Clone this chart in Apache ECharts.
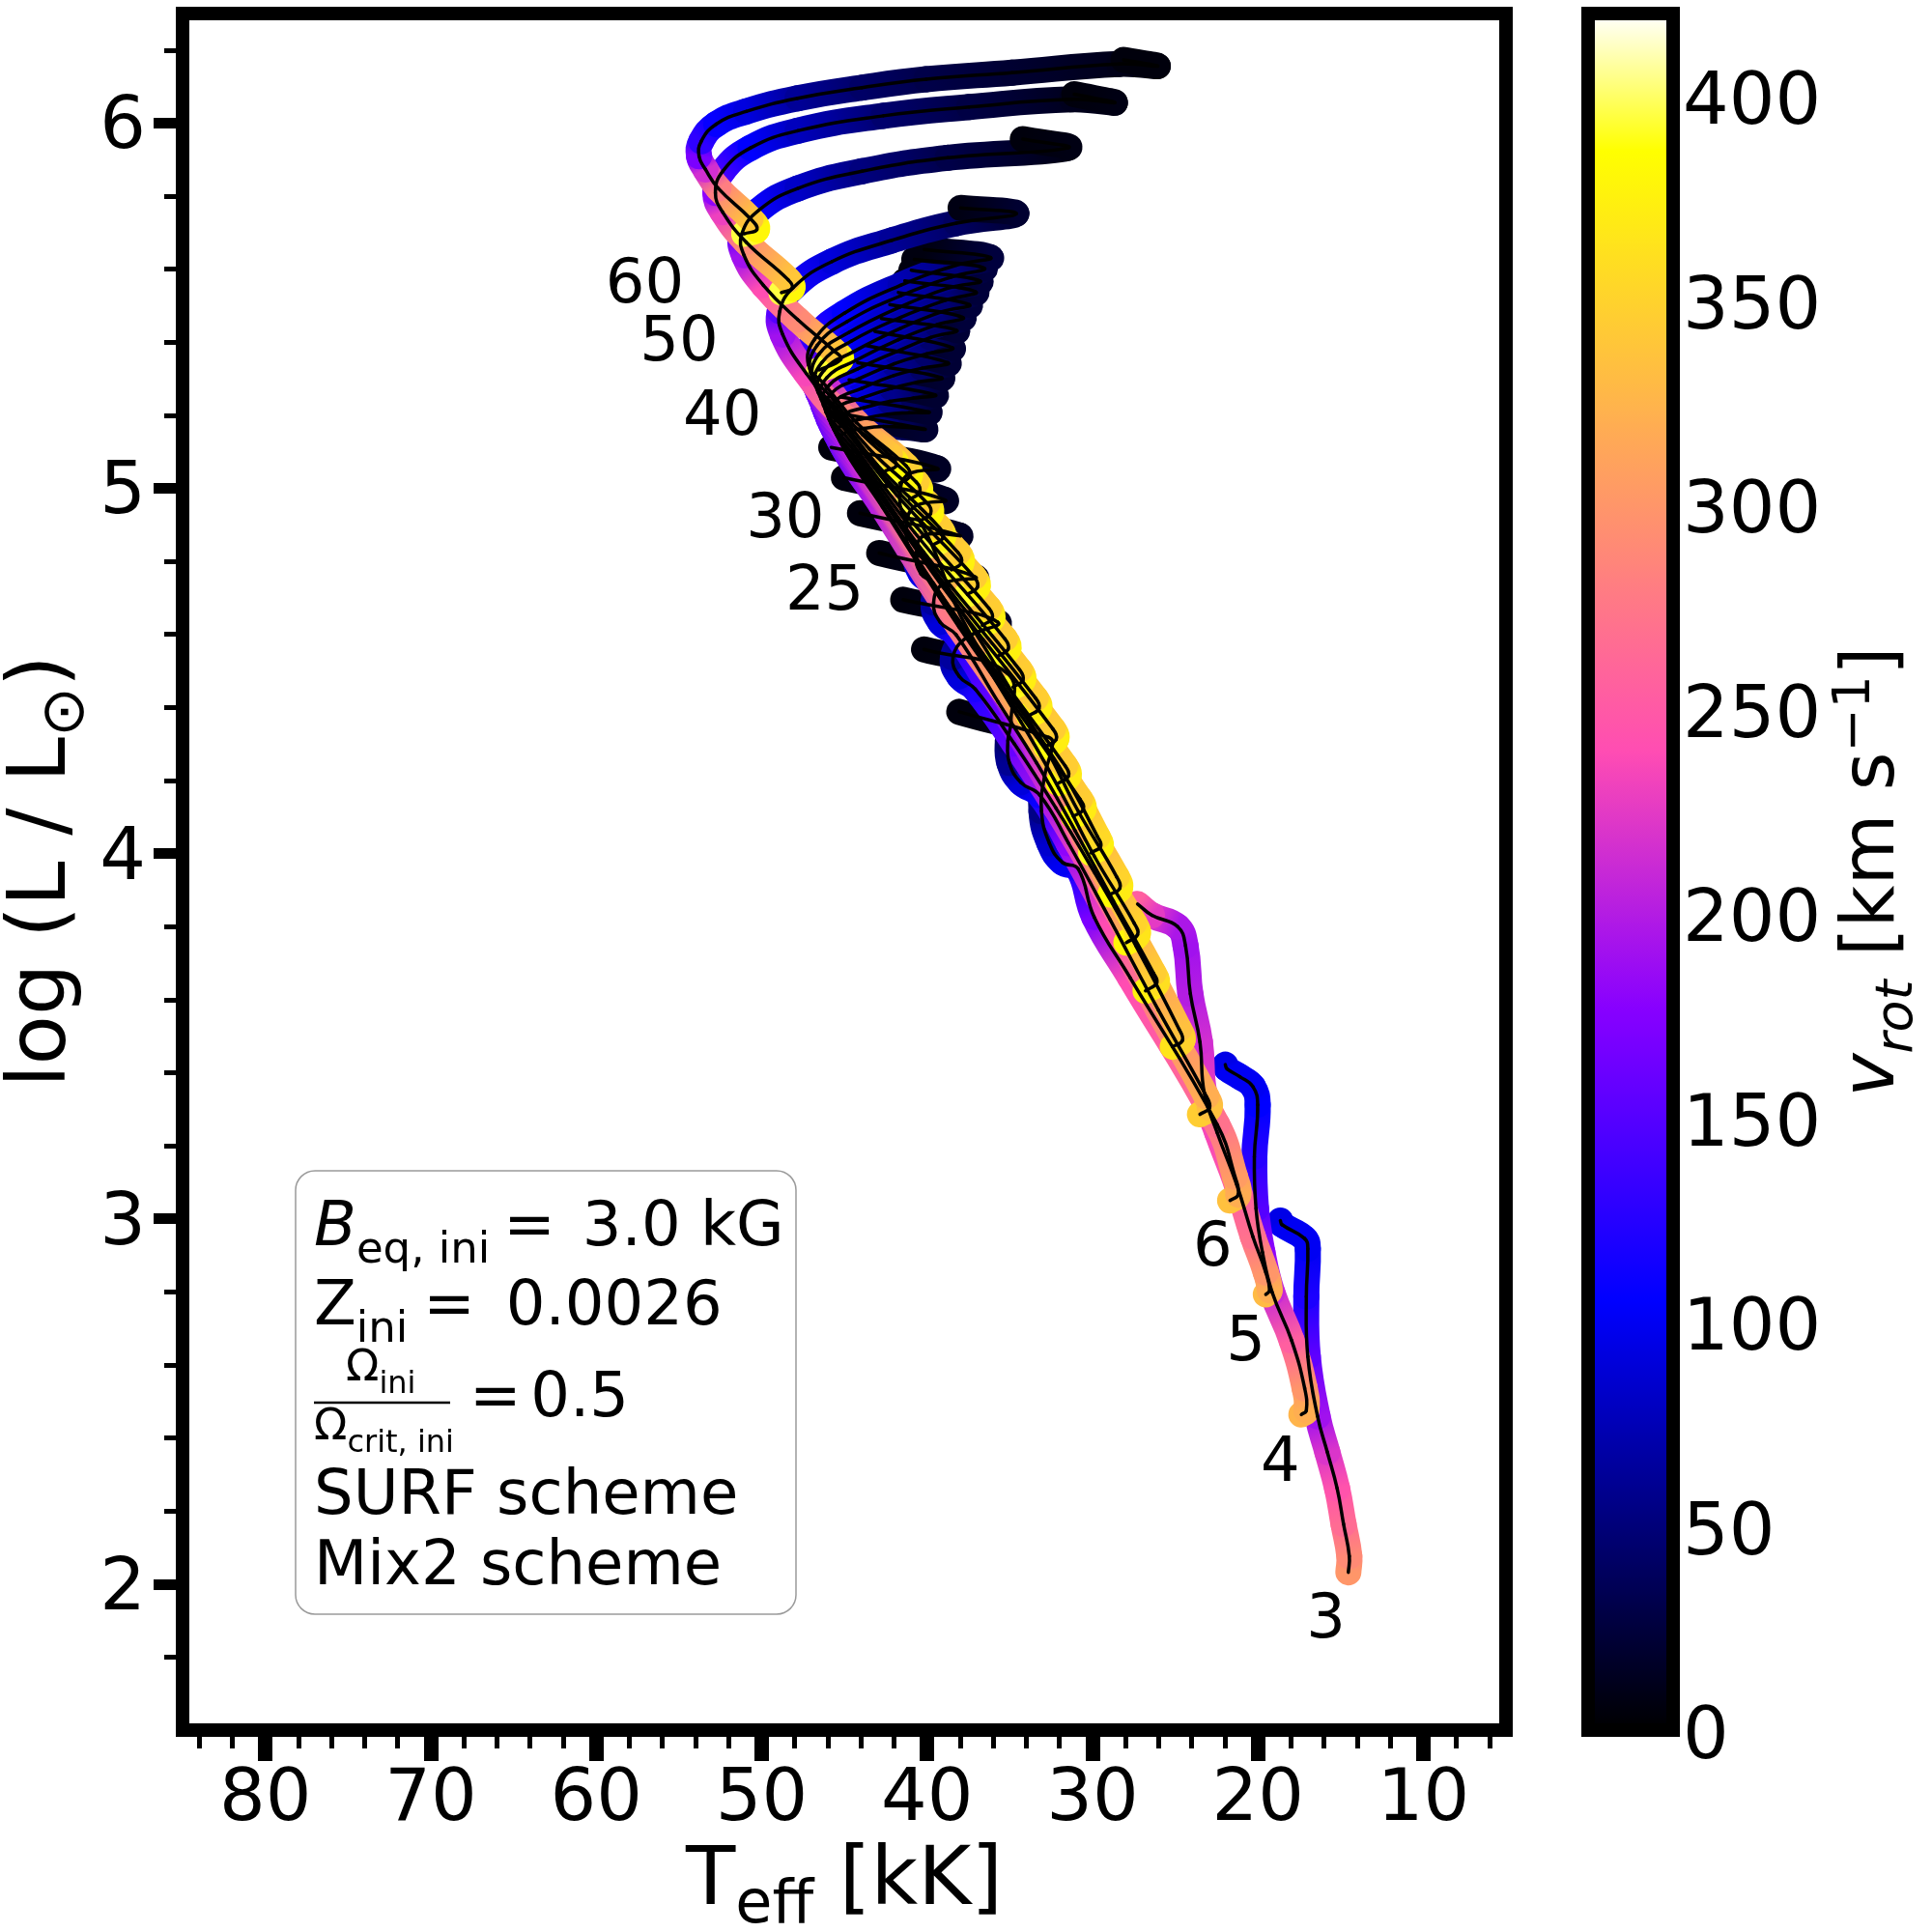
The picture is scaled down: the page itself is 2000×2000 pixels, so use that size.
<!DOCTYPE html>
<html>
<head>
<meta charset="utf-8">
<style>html,body{margin:0;padding:0;background:#fff}#chart{width:2000px;height:2000px}</style>
<script src="https://cdn.jsdelivr.net/npm/echarts@6/dist/echarts.min.js"></script>
</head>
<body>
<div id="chart"></div>
<script>
// HR diagram: evolutionary tracks, lowest mass first, one row per track
const teffTracks = [
	[14.53,14.47,14.82,15.21,15.80,16.39,16.98,17.07,16.98,17.17,18.54,18.64],
	[17.37,17.07,17.17,17.96,19.13,19.72,20.11,20.21,20.01,20.30,21.09,21.87,21.97],
	[19.52,19.29,19.52,20.30,21.28,22.46,23.24,23.50,24.08,24.37,24.85,26.40,27.27],
	[21.68,21.19,21.38,22.46,27.72,29.89,30.86,31.82,32.60,33.08,32.89,32.40,32.63,38.05],
	[23.50,22.92,23.11,26.02,28.92,31.44,33.18,34.34,35.02,35.11,34.92,35.14,40.18],
	[25.15,24.56,24.76,27.37,29.89,32.21,34.73,37.08,38.05,38.43,37.66,35.73,41.44],
	[26.79,26.11,26.31,28.73,31.05,33.37,35.70,38.24,39.21,39.60,39.02,37.08,42.89],
	[27.95,27.27,27.47,29.89,32.02,34.34,39.60,40.37,40.66,40.18,38.05,44.05],
	[28.92,28.34,28.53,30.86,32.99,39.98,40.95,41.24,40.76,38.92,45.02],
	[30.08,29.50,29.69,32.02,37.47,40.37,41.34,41.63,41.15,39.40,45.79],
	[31.15,30.55,30.75,38.08,42.70,45.30,44.91,43.80,42.63,41.34,40.17,45.74],
	[32.05,31.45,31.65,38.62,43.01,45.48,45.10,43.80,42.37,41.08,39.91,45.22],
	[32.79,32.19,32.39,39.07,43.27,45.64,45.28,43.80,42.25,40.82,39.53,44.71],
	[33.83,33.23,33.43,39.66,43.58,45.79,45.43,43.93,42.12,40.56,39.14,44.19],
	[34.80,34.20,34.40,40.23,43.89,45.95,45.59,43.93,41.99,40.30,38.75,43.67],
	[35.69,35.09,35.29,40.75,44.18,46.11,45.74,44.06,41.99,40.04,38.49,43.15],
	[36.66,36.06,36.26,41.31,44.48,46.26,45.90,44.19,41.86,39.78,38.23,42.76],
	[37.55,36.95,37.15,41.82,44.74,46.39,46.05,44.32,41.73,39.40,37.84,42.25],
	[38.52,37.92,38.12,42.40,45.07,46.57,46.21,44.45,41.60,39.14,37.45,41.73],
	[39.64,39.04,39.24,43.04,45.40,46.73,46.36,44.58,41.60,38.88,37.06,41.34],
	[40.38,39.78,39.98,43.49,45.66,46.89,46.52,44.71,41.60,38.75,36.80,40.95],
	[41.05,40.45,40.65,43.90,45.91,47.04,46.65,44.84,41.60,38.49,36.55,40.77],
	[41.65,41.05,41.25,44.26,46.12,47.17,46.78,44.97,41.60,38.23,36.16,40.17],
	[42.50,41.86,42.25,45.22,47.30,48.72,48.90,48.07,45.74,42.12,38.23,34.60,37.97],
	[46.52,45.22,45.61,47.82,49.89,51.06,51.19,50.15,47.82,43.93,38.75,31.49,34.21],
	[48.80,48.15,48.39,50.93,52.35,52.79,52.35,50.67,47.82,42.63,37.45,31.23,28.64,31.10],
	[51.05,50.28,50.67,52.61,53.39,53.78,53.65,52.74,50.93,47.82,43.93,40.04,34.86,28.38,26.05,28.12]
];
const logLTracks = [
	[2.032,2.076,2.164,2.262,2.361,2.459,2.623,2.787,2.918,2.946,2.984,2.995],
	[2.464,2.475,2.536,2.667,2.798,2.908,3.028,3.170,3.312,3.362,3.389,3.411,3.422],
	[2.793,2.804,2.853,2.951,3.094,3.236,3.345,3.484,3.616,3.747,3.800,3.831,3.862],
	[3.050,3.066,3.115,3.258,3.660,3.826,3.958,3.976,4.028,4.116,4.213,4.301,4.318,4.388],
	[3.286,3.304,3.335,3.572,3.818,4.028,4.160,4.195,4.248,4.309,4.362,4.493,4.559],
	[3.471,3.488,3.519,3.747,3.949,4.125,4.301,4.450,4.485,4.537,4.590,4.634,4.695],
	[3.624,3.646,3.673,3.870,4.063,4.248,4.415,4.599,4.634,4.687,4.739,4.757,4.823],
	[3.756,3.778,3.809,3.993,4.178,4.362,4.739,4.766,4.818,4.871,4.871,4.932],
	[3.888,3.905,3.936,4.116,4.301,4.801,4.827,4.889,4.950,4.968,5.029],
	[4.002,4.020,4.046,4.239,4.608,4.906,4.924,4.985,5.038,5.055,5.112],
	[4.102,4.121,4.149,4.621,4.949,5.133,5.153,5.164,5.169,5.167,5.162,5.209],
	[4.193,4.212,4.240,4.674,4.977,5.148,5.174,5.191,5.203,5.207,5.209,5.250],
	[4.294,4.313,4.341,4.732,5.007,5.162,5.197,5.221,5.238,5.247,5.256,5.297],
	[4.378,4.397,4.425,4.781,5.034,5.176,5.221,5.247,5.274,5.291,5.303,5.344],
	[4.456,4.475,4.503,4.827,5.060,5.191,5.238,5.274,5.309,5.329,5.344,5.391],
	[4.541,4.560,4.588,4.879,5.090,5.209,5.262,5.301,5.341,5.368,5.385,5.430],
	[4.625,4.644,4.672,4.930,5.120,5.227,5.283,5.327,5.374,5.413,5.433,5.465],
	[4.710,4.729,4.757,4.981,5.149,5.244,5.303,5.350,5.407,5.448,5.468,5.503],
	[4.777,4.796,4.824,5.023,5.176,5.262,5.324,5.374,5.438,5.483,5.503,5.536],
	[4.845,4.864,4.892,5.066,5.203,5.280,5.344,5.403,5.468,5.515,5.538,5.568],
	[4.912,4.931,4.959,5.108,5.229,5.297,5.368,5.427,5.497,5.548,5.568,5.597],
	[4.970,4.989,5.017,5.147,5.256,5.317,5.391,5.456,5.527,5.579,5.603,5.627],
	[5.014,5.033,5.061,5.180,5.281,5.338,5.409,5.480,5.556,5.611,5.632,5.654],
	[5.048,5.062,5.091,5.203,5.315,5.421,5.485,5.550,5.621,5.679,5.726,5.752,5.768],
	[5.324,5.353,5.376,5.462,5.556,5.638,5.697,5.762,5.821,5.868,5.905,5.932,5.956],
	[5.536,5.548,5.571,5.674,5.756,5.809,5.868,5.932,5.979,6.020,6.044,6.065,6.056,6.079],
	[5.697,5.709,5.738,5.821,5.873,5.909,5.950,5.997,6.032,6.068,6.097,6.120,6.138,6.162,6.156,6.173]
];
const vrotTracks = [
	[300,290,265,245,220,190,155,120,100,100,100,95],
	[325,320,300,255,210,180,150,125,105,100,100,100,95],
	[330,320,300,270,250,235,225,215,200,190,195,225,255],
	[335,320,305,270,240,170,115,100,85,55,40,25,10,5],
	[345,335,320,285,240,180,110,90,60,45,30,12,5],
	[365,350,335,290,250,200,160,120,90,65,40,15,5],
	[375,360,345,300,250,200,160,120,90,65,40,15,5],
	[380,365,350,300,250,190,130,95,70,45,15,5],
	[385,370,350,300,245,135,100,75,50,15,5],
	[390,375,355,300,240,135,100,75,50,15,5],
	[385,370,345,275,200,150,115,80,50,35,20,6],
	[385,370,345,275,200,150,115,80,52,36,20,6],
	[388,372,345,275,200,152,118,85,55,38,20,6],
	[388,372,345,275,205,152,120,88,58,40,20,6],
	[390,372,345,280,205,155,120,90,60,42,22,6],
	[390,375,345,280,205,155,122,92,62,44,22,6],
	[390,375,345,280,205,158,125,95,65,45,22,6],
	[392,375,345,285,210,158,125,95,68,46,24,6],
	[392,375,345,285,210,160,125,98,70,48,24,6],
	[395,375,345,285,210,160,128,100,72,48,24,6],
	[395,378,345,285,210,162,128,100,72,50,24,6],
	[395,378,345,290,210,162,130,100,75,50,25,6],
	[395,378,345,290,210,165,130,105,75,50,25,6],
	[395,385,340,285,235,190,150,115,90,62,40,20,8],
	[395,385,340,290,240,190,150,110,82,52,30,8,5],
	[395,380,340,290,230,180,140,105,78,45,28,12,8,5],
	[395,380,340,280,215,170,130,108,92,62,42,30,20,10,5,5]
];
const massLabels = ['60', '50', '40', '30', '25', '6', '5', '4', '3'];
const labelTeff = [57.06, 54.98, 52.37, 48.57, 46.19, 22.73, 20.73, 18.64, 15.89];
const labelLogL = [5.568, 5.409, 5.206, 4.926, 4.727, 2.933, 2.673, 2.342, 1.913];

const teffMajor = [10, 20, 30, 40, 50, 60, 70, 80];
const teffMinor = [6, 8, 12, 14, 16, 18, 22, 24, 26, 28, 32, 34, 36, 38, 42, 44, 46, 48, 52, 54, 56, 58, 62, 64, 66, 68, 72, 74, 76, 78, 82, 84];
const logLMajor = [2, 3, 4, 5, 6];
const logLMinor = [1.8, 2.2, 2.4, 2.6, 2.8, 3.2, 3.4, 3.6, 3.8, 4.2, 4.4, 4.6, 4.8, 5.2, 5.4, 5.6, 5.8, 6.2];
const vrotTicks = [0, 50, 100, 150, 200, 250, 300, 350, 400];
const vrotMax = 420;

const FONT = 'DejaVu Sans';

/**
 * matplotlib gnuplot2 colormap.
 *
 * @param {number} x 0..1
 * @return {string}
 */
const gnuplot2 = ( x ) => {
	const clamp = ( a ) => Math.round( 255 * Math.min( 1, Math.max( 0, a ) ) );
	let b;
	if ( x < 0.25 ) {
		b = 4 * x;
	} else if ( x < 0.42 ) {
		b = 1;
	} else if ( x < 0.92 ) {
		b = -2 * x + 1.84;
	} else {
		b = x / 0.08 - 11.5;
	}
	return `rgb(${ clamp( x / 0.32 - 0.78125 ) },${ clamp( 2 * x - 0.84 ) },${ clamp( b ) })`;
};
const vrotColor = ( v ) => gnuplot2( v / vrotMax );

// one row per piece of track: x0, y0, v0, x1, y1, v1, then the neighbours xp, yp, xn, yn
const segments = [];
teffTracks.forEach( ( teff, t ) => {
	const logL = logLTracks[ t ];
	const vrot = vrotTracks[ t ];
	for ( let i = 1; i < teff.length; i++ ) {
		const p = Math.max( i - 2, 0 );
		const n = Math.min( i + 1, teff.length - 1 );
		segments.push( [
			teff[ i - 1 ], logL[ i - 1 ], vrot[ i - 1 ],
			teff[ i ], logL[ i ], vrot[ i ],
			teff[ p ], logL[ p ], teff[ n ], logL[ n ]
		] );
	}
} );

const dist = ( a, b ) => Math.hypot( a[ 0 ] - b[ 0 ], a[ 1 ] - b[ 1 ] );

// control points so the thick band and the thin line bend the same way
const curveShape = ( api ) => {
	const a = api.coord( [ api.value( 0 ), api.value( 1 ) ] );
	const b = api.coord( [ api.value( 3 ), api.value( 4 ) ] );
	const p = api.coord( [ api.value( 6 ), api.value( 7 ) ] );
	const n = api.coord( [ api.value( 8 ), api.value( 9 ) ] );
	const len = dist( a, b );
	const k1 = 0.45 * len / ( len + dist( p, a ) );
	const k2 = 0.45 * len / ( len + dist( b, n ) );
	return {
		a,
		b,
		shape: {
			x1: a[ 0 ], y1: a[ 1 ], x2: b[ 0 ], y2: b[ 1 ],
			cpx1: a[ 0 ] + ( b[ 0 ] - p[ 0 ] ) * k1,
			cpy1: a[ 1 ] + ( b[ 1 ] - p[ 1 ] ) * k1,
			cpx2: b[ 0 ] - ( n[ 0 ] - a[ 0 ] ) * k2,
			cpy2: b[ 1 ] - ( n[ 1 ] - a[ 1 ] ) * k2
		}
	};
};

const renderBand = ( params, api ) => {
	const { a, b, shape } = curveShape( api );
	return {
		type: 'bezierCurve',
		shape,
		style: {
			fill: null,
			lineWidth: 27,
			lineCap: 'round',
			stroke: new echarts.graphic.LinearGradient( a[ 0 ], a[ 1 ], b[ 0 ], b[ 1 ], [
				{ offset: 0, color: vrotColor( api.value( 2 ) ) },
				{ offset: 1, color: vrotColor( api.value( 5 ) ) }
			], true )
		}
	};
};

const renderThin = ( params, api ) => ( {
	type: 'bezierCurve',
	shape: curveShape( api ).shape,
	style: { fill: null, lineWidth: 3.5, lineCap: 'round', stroke: '#000' }
} );

const renderColorbar = ( params, api ) => {
	const top = api.coord( [ 0, vrotMax ] );
	const bottom = api.coord( [ 1, 0 ] );
	const stops = [];
	for ( let i = 0; i <= 100; i++ ) {
		stops.push( { offset: i / 100, color: gnuplot2( 1 - i / 100 ) } );
	}
	return {
		type: 'rect',
		shape: { x: top[ 0 ], y: top[ 1 ], width: bottom[ 0 ] - top[ 0 ], height: bottom[ 1 ] - top[ 1 ] },
		style: { fill: new echarts.graphic.LinearGradient( 0, 0, 0, 1, stops ) }
	};
};

const sub = { fontFamily: FONT, fontSize: 62 };
const tickLabel = { fontFamily: FONT, fontSize: 75, color: '#000' };
const chart = echarts.init( document.getElementById( 'chart' ), null, { renderer: 'canvas' } );
chart.setOption( {
	animation: false,
	backgroundColor: '#fff',
	grid: [
		{ left: 189, top: 14, width: 1370, height: 1777, outerBoundsMode: 'none', show: true, borderColor: '#000', borderWidth: 14, z: 10, backgroundColor: 'transparent' },
		{ left: 1644, top: 14, width: 88, height: 1777, outerBoundsMode: 'none', show: true, borderColor: '#000', borderWidth: 14, z: 10, backgroundColor: 'transparent' }
	],
	xAxis: [
		{
			type: 'value', gridIndex: 0, min: 5, max: 85, inverse: true, position: 'bottom', splitLine: { show: false },
			axisLine: { show: false },
			axisTick: { customValues: teffMajor, length: 32, lineStyle: { width: 15, color: '#000' } },
			axisLabel: Object.assign( { customValues: teffMajor, margin: 36 }, tickLabel ),
			name: '{n|T}{s|eff}{n| [kK]}', nameLocation: 'middle', nameGap: 114,
			nameTextStyle: { rich: {
				n: { fontFamily: FONT, fontSize: 84, color: '#000', padding: [ 0, 0, 14, 0 ], verticalAlign: 'bottom' },
				s: Object.assign( { color: '#000', verticalAlign: 'bottom' }, sub )
			} }
		},
		{
			type: 'value', gridIndex: 0, min: 5, max: 85, inverse: true, position: 'bottom', splitLine: { show: false },
			axisLine: { show: false }, axisLabel: { show: false },
			axisTick: { customValues: teffMinor, length: 19, lineStyle: { width: 5, color: '#000' } }
		},
		{
			type: 'value', gridIndex: 1, min: 0, max: 1, show: false
		}
	],
	yAxis: [
		{
			type: 'value', gridIndex: 0, min: 1.6, max: 6.3, position: 'left', splitLine: { show: false },
			axisLine: { show: false },
			axisTick: { customValues: logLMajor, length: 30, lineStyle: { width: 11, color: '#000' } },
			axisLabel: {
				customValues: logLMajor, margin: 38, formatter: '{t|{value}}',
				rich: { t: Object.assign( { padding: [ 13, 0, 0, 0 ] }, tickLabel ) }
			}
		},
		{
			type: 'value', gridIndex: 0, min: 1.6, max: 6.3, position: 'left', splitLine: { show: false },
			axisLine: { show: false }, axisLabel: { show: false },
			axisTick: { customValues: logLMinor, length: 19, lineStyle: { width: 5, color: '#000' } }
		},
		{
			type: 'value', gridIndex: 1, min: 0, max: vrotMax, position: 'right', splitLine: { show: false },
			axisLine: { show: false }, axisTick: { show: false },
			axisLabel: {
				customValues: vrotTicks, margin: 10, formatter: '{t|{value}}',
				rich: { t: Object.assign( { padding: [ 20, 0, 0, 0 ] }, tickLabel ) }
			},
			name: '{i|v}{s|rot}{n| [km s}{u|−1}{n|]}', nameLocation: 'middle', nameGap: 162, nameRotate: 90,
			nameTextStyle: { rich: {
				i: { fontFamily: FONT, fontStyle: 'italic', fontSize: 76, color: '#000', padding: [ 0, 0, 14, 0 ], verticalAlign: 'bottom' },
				n: { fontFamily: FONT, fontSize: 76, color: '#000', padding: [ 0, 0, 14, 0 ], verticalAlign: 'bottom' },
				s: { fontFamily: FONT, fontStyle: 'italic', fontSize: 54, color: '#000', verticalAlign: 'bottom' },
				u: { fontFamily: FONT, fontSize: 54, color: '#000', padding: [ 0, 0, 44, 0 ], verticalAlign: 'bottom' }
			} }
		}
	],
	series: [
		{
			type: 'custom',
			xAxisIndex: 0,
			yAxisIndex: 0,
			z: 2,
			silent: true,
			progressive: 0,
			renderItem: renderBand,
			data: segments
		},
		{
			type: 'custom',
			xAxisIndex: 0,
			yAxisIndex: 0,
			z: 5,
			silent: true,
			progressive: 0,
			renderItem: renderThin,
			data: segments
		},
		{
			type: 'scatter',
			xAxisIndex: 0,
			yAxisIndex: 0,
			z: 6,
			silent: true,
			symbolSize: 1,
			itemStyle: { color: 'rgba(0,0,0,0)', opacity: 1 },
			label: {
				show: true, position: 'inside',
				formatter: ( p ) => `{t|${ massLabels[ p.dataIndex ] }}`,
				rich: { t: { color: '#000', fontFamily: FONT, fontSize: 64, padding: [ 12, 0, 0, 0 ] } }
			},
			data: labelTeff.map( ( x, i ) => [ x, labelLogL[ i ] ] )
		},
		{
			type: 'custom',
			xAxisIndex: 2,
			yAxisIndex: 2,
			z: 2,
			silent: true,
			renderItem: renderColorbar,
			data: [ [ 0, 0 ] ]
		}
	],
	graphic: [
		{ type: 'text', z: 8, silent: true, x: 52, y: 902, rotation: Math.PI / 2, style: {
			text: '{n|log (L / L}{s|⊙}{n|)}',
			align: 'center',
			verticalAlign: 'middle',
			rich: {
				n: { fontFamily: FONT, fontSize: 84, color: '#000', padding: [ 0, 0, 14, 0 ], verticalAlign: 'bottom' },
				s: Object.assign( { color: '#000', verticalAlign: 'bottom' }, sub )
			}
		} },
		{ type: 'rect', z: 7, silent: true, shape: { x: 306, y: 1212, width: 518, height: 459, r: 20 }, style: { fill: '#fff', stroke: '#9a9a9a', lineWidth: 1.5 } },
		{ type: 'text', z: 8, silent: true, x: 325, y: 1240, style: {
			text: '{i|B}{s|eq, ini}{p| }{n|=}{p|  }{n|3.0 kG}',
			rich: {
				i: { fontFamily: FONT, fontStyle: 'italic', fontSize: 64, padding: [ 0, 0, 14, 0 ], verticalAlign: 'bottom' },
				n: { fontFamily: FONT, fontSize: 64, padding: [ 0, 0, 14, 0 ], verticalAlign: 'bottom' },
				p: { fontFamily: FONT, fontSize: 44, padding: [ 0, 0, 14, 0 ], verticalAlign: 'bottom' },
				s: { fontFamily: FONT, fontSize: 45, verticalAlign: 'bottom' }
			}
		} },
		{ type: 'text', z: 8, silent: true, x: 325, y: 1322, style: {
			text: '{n|Z}{s|ini}{p| }{n|=}{p|  }{n|0.0026}',
			rich: {
				n: { fontFamily: FONT, fontSize: 64, padding: [ 0, 0, 14, 0 ], verticalAlign: 'bottom' },
				p: { fontFamily: FONT, fontSize: 50, padding: [ 0, 0, 14, 0 ], verticalAlign: 'bottom' },
				s: { fontFamily: FONT, fontSize: 45, verticalAlign: 'bottom' }
			}
		} },
		{ type: 'text', z: 8, silent: true, x: 358, y: 1395, style: {
			text: '{n|Ω}{s|ini}',
			rich: {
				n: { fontFamily: FONT, fontSize: 45, padding: [ 0, 0, 10, 0 ], verticalAlign: 'bottom' },
				s: { fontFamily: FONT, fontSize: 32, verticalAlign: 'bottom' }
			}
		} },
		{ type: 'line', z: 8, silent: true, shape: { x1: 325, y1: 1452, x2: 466, y2: 1452 }, style: { stroke: '#000', lineWidth: 2.5 } },
		{ type: 'text', z: 8, silent: true, x: 325, y: 1456, style: {
			text: '{n|Ω}{s|crit, ini}',
			rich: {
				n: { fontFamily: FONT, fontSize: 45, padding: [ 0, 0, 10, 0 ], verticalAlign: 'bottom' },
				s: { fontFamily: FONT, fontSize: 32, verticalAlign: 'bottom' }
			}
		} },
		{ type: 'text', z: 8, silent: true, x: 486, y: 1417, style: {
			text: '{n|=}{p| }{n|0.5}',
			rich: {
				n: { fontFamily: FONT, fontSize: 64 },
				p: { fontFamily: FONT, fontSize: 30 }
			}
		} },
		{ type: 'text', z: 8, silent: true, x: 325, y: 1518, style: { text: 'SURF scheme', fontFamily: FONT, fontSize: 64 } },
		{ type: 'text', z: 8, silent: true, x: 325, y: 1591, style: { text: 'Mix2 scheme', fontFamily: FONT, fontSize: 64 } }
	]
} );
</script>
</body>
</html>
